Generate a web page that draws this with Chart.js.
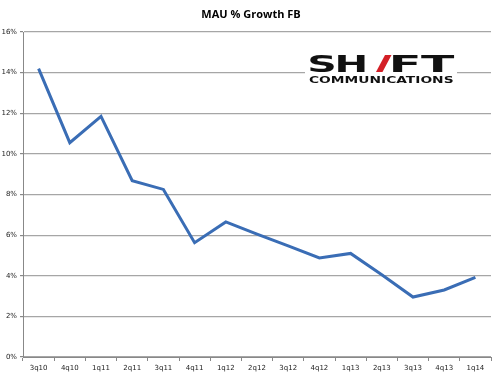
<!DOCTYPE html>
<html>
<head>
<meta charset="utf-8">
<script src="https://cdn.jsdelivr.net/npm/chart.js@4/dist/chart.umd.min.js"></script>
<style>
html,body{margin:0;padding:0;background:#fff;}
#wrap{width:500px;height:375px;position:relative;}
</style>
</head>
<body>
<div id="wrap"><canvas id="c" width="500" height="375"></canvas></div>
<script>
const categories = ["3q10","4q10","1q11","2q11","3q11","4q11","1q12","2q12","3q12","4q12","1q13","2q13","3q13","4q13","1q14"];
const growthPct = [14.2, 10.55, 11.85, 8.68, 8.25, 5.63, 6.65, 6.05, 5.47, 4.88, 5.1, 4.05, 2.95, 3.3, 3.92];
const yTicks = [0, 2, 4, 6, 8, 10, 12, 14, 16];
const titleText = "MAU % Growth FB";
const logoWord = "SHIFT";
const logoSub = "COMMUNICATIONS";

function drawFit(ctx, text, x0, x1, baseline, font) {
  ctx.save();
  ctx.font = font;
  ctx.textAlign = 'left';
  ctx.textBaseline = 'alphabetic';
  const m = ctx.measureText(text);
  const w = m.actualBoundingBoxLeft + m.actualBoundingBoxRight;
  const sx = (x1 - x0) / w;
  ctx.translate(x0, baseline);
  ctx.scale(sx, 1);
  ctx.fillText(text, m.actualBoundingBoxLeft, 0);
  ctx.restore();
}

const overlay = {
  id: 'overlay',
  afterDraw(chart) {
    const ctx = chart.ctx;
    ctx.save();
    // title
    ctx.fillStyle = '#000';
    ctx.font = 'bold 11px "Open Sans", Lato, sans-serif';
    ctx.textAlign = 'center';
    ctx.textBaseline = 'middle';
    ctx.fillText(titleText, 251, 15);
    // logo background
    ctx.fillStyle = '#fff';
    ctx.fillRect(305, 50, 152, 36);
    const big = 'bold 23px "DejaVu Sans", sans-serif';
    ctx.fillStyle = '#111';
    drawFit(ctx, logoWord[0], 309, 334, 72, big);
    drawFit(ctx, logoWord[1], 338, 366, 72, big);
    drawFit(ctx, logoWord[3], 393, 418, 72, big);
    drawFit(ctx, logoWord[4], 421, 455, 72, big);
    // red slash replacing the I
    ctx.fillStyle = '#d31f26';
    ctx.beginPath();
    ctx.moveTo(385, 55);
    ctx.lineTo(391.5, 55);
    ctx.lineTo(382.5, 72);
    ctx.lineTo(376, 72);
    ctx.closePath();
    ctx.fill();
    ctx.fillStyle = '#111';
    drawFit(ctx, logoSub, 309, 454, 83, 'bold 8px "DejaVu Sans", sans-serif');
    ctx.restore();
  }
};

new Chart(document.getElementById('c'), {
  type: 'line',
  data: {
    labels: categories,
    datasets: [{
      data: growthPct,
      borderColor: '#3a6db5',
      borderWidth: 3,
      pointRadius: 0,
      tension: 0,
      fill: false
    }]
  },
  options: {
    responsive: false,
    animation: false,
    devicePixelRatio: 1,
    layout: { padding: { top: 32, right: 9, left: 0, bottom: 0 } },
    plugins: { legend: { display: false }, tooltip: { enabled: false }, title: { display: false } },
    scales: {
      x: {
        type: 'category',
        offset: true,
        grid: { offset: true, drawOnChartArea: false, drawTicks: true, tickLength: 4, color: '#888', tickColor: '#888' },
        border: { display: true, color: '#888', width: 1 },
        ticks: { color: '#222', font: { size: 7, family: '"DejaVu Sans", sans-serif' }, padding: 3, maxRotation: 0, autoSkip: false },
        afterFit(scale) { scale.height = 18; }
      },
      y: {
        min: 0,
        max: 16,
        afterBuildTicks(scale) { scale.ticks = yTicks.map(v => ({ value: v })); },
        grid: { color: '#a6a6a6', lineWidth: 1.2, drawTicks: true, tickLength: 3, tickColor: '#888' },
        border: { display: true, color: '#888', width: 1 },
        ticks: { color: '#222', font: { size: 7, family: '"DejaVu Sans", sans-serif' }, padding: 3, callback: v => v + '%' },
        afterFit(scale) { scale.width = 23; }
      }
    }
  },
  plugins: [overlay]
});
</script>
</body>
</html>
